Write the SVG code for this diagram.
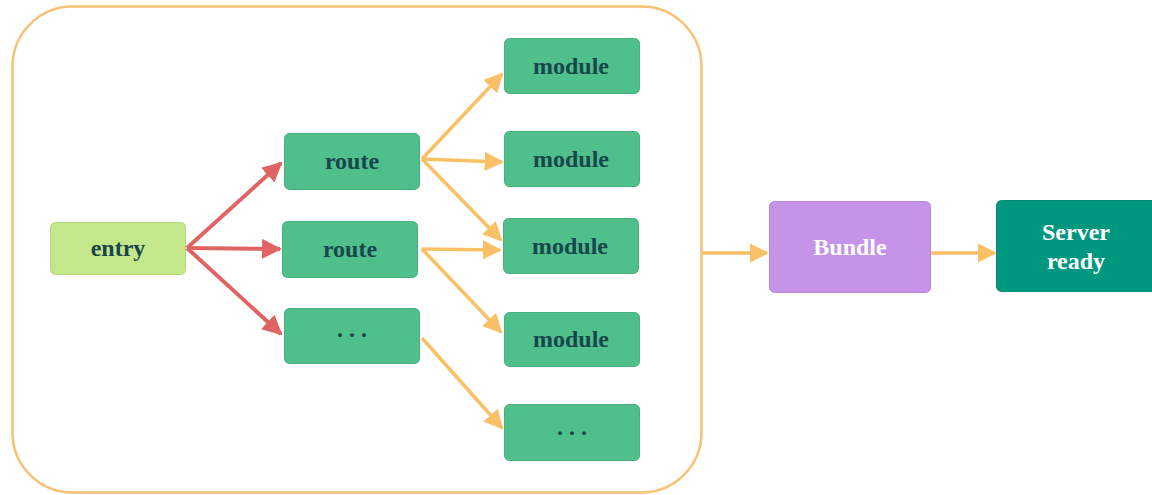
<svg xmlns="http://www.w3.org/2000/svg" width="1152" height="495" viewBox="0 0 1152 495">
<defs>
<marker id="ar" viewBox="0 0 10 10" refX="9" refY="5" markerWidth="5" markerHeight="5" markerUnits="strokeWidth" orient="auto"><path d="M0,0 L10,5 L0,10 z" fill="#e06464"/></marker>
<marker id="ao" viewBox="0 0 10 10" refX="9" refY="5" markerWidth="5.5" markerHeight="5.5" markerUnits="strokeWidth" orient="auto"><path d="M0,0 L10,5 L0,10 z" fill="#f9c066"/></marker>
</defs>
<style>
.g{fill:#4fbf8c;stroke:#46b07f;stroke-width:1}
.t{font-family:"Liberation Serif",serif;font-weight:bold;font-size:24px;fill:#17474c;text-anchor:middle;dominant-baseline:central}
.d{font-family:"Liberation Serif",serif;font-weight:bold;font-size:24px;fill:#17474c;text-anchor:middle}
.w{font-family:"Liberation Serif",serif;font-weight:bold;font-size:24px;fill:#ffffff;text-anchor:middle}
.r{stroke:#e06464;stroke-width:4;fill:none;marker-end:url(#ar)}
.o{stroke:#f9c066;stroke-width:3.5;fill:none;marker-end:url(#ao)}
</style>
<rect id="container" x="12.5" y="6.5" width="689" height="486" rx="60" fill="#ffffff" stroke="#f6c274" stroke-width="2.5"/>
<g id="connectors">
<path class="r" d="M187,248 L281,163"/>
<path class="r" d="M187,248 L280,249"/>
<path class="r" d="M187,248 L281,334"/>
<path class="o" d="M422,159 L502,74"/>
<path class="o" d="M422,159 L502,162"/>
<path class="o" d="M422,159 L501,240"/>
<path class="o" d="M422,249 L500,250"/>
<path class="o" d="M422,249 L501,332"/>
<path class="o" d="M422,338 L502,428"/>
<path class="o" d="M702,253 L767,253"/>
<path class="o" d="M931,253 L995,253"/>
</g>
<g id="entry"><rect x="50.5" y="222.5" width="135" height="52" rx="5" fill="#c5e78b" stroke="#b7d87e"/><text class="t" x="118" y="248">entry</text></g>
<g id="route1"><rect class="g" x="284.5" y="133.5" width="135" height="56" rx="5"/><text class="t" x="352" y="161">route</text></g>
<g id="route2"><rect class="g" x="282.5" y="221.5" width="135" height="56" rx="5"/><text class="t" x="350" y="249">route</text></g>
<g id="route3"><rect class="g" x="284.5" y="308.5" width="135" height="55" rx="5"/><text class="d" x="352" y="337">. . .</text></g>
<g id="module1"><rect class="g" x="504.5" y="38.5" width="135" height="55" rx="5"/><text class="t" x="571" y="66">module</text></g>
<g id="module2"><rect class="g" x="504.5" y="131.5" width="135" height="55" rx="5"/><text class="t" x="571" y="159">module</text></g>
<g id="module3"><rect class="g" x="503.5" y="218.5" width="135" height="55" rx="5"/><text class="t" x="570" y="246">module</text></g>
<g id="module4"><rect class="g" x="504.5" y="312.5" width="135" height="54" rx="5"/><text class="t" x="571" y="339">module</text></g>
<g id="module5"><rect class="g" x="504.5" y="404.5" width="135" height="56" rx="5"/><text class="d" x="572" y="435">. . .</text></g>
<g id="bundle"><rect x="769.5" y="201.5" width="161" height="91" rx="5" fill="#c594e8" stroke="#b986dc"/><text class="w" x="850" y="255">Bundle</text></g>
<g id="server"><rect x="996.5" y="200.5" width="170" height="91" rx="5" fill="#00977f" stroke="#008c76"/><text class="w" x="1076" y="240">Server</text><text class="w" x="1076" y="269">ready</text></g>
</svg>
